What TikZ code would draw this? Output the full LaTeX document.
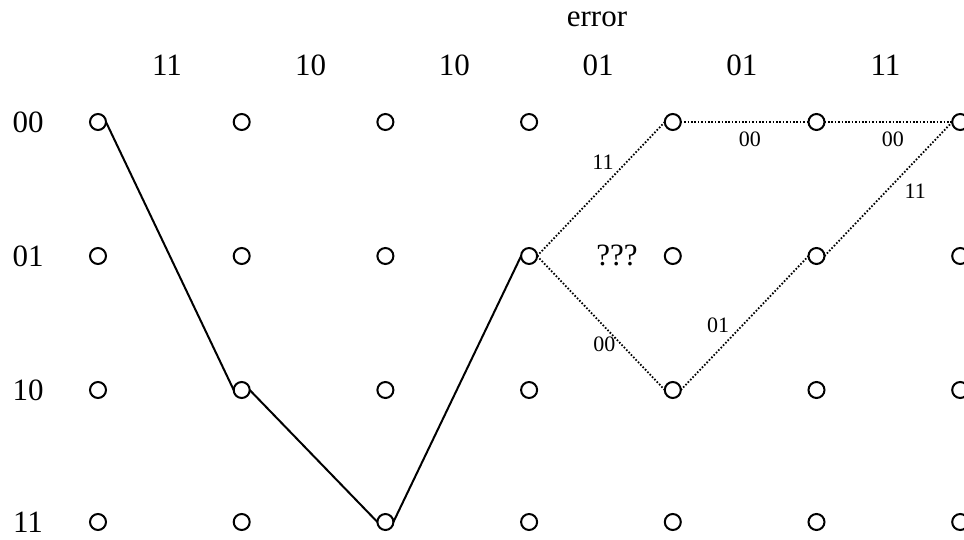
\documentclass[tikz,border=0pt]{standalone}
\usepackage{fontspec}
\setmainfont{Liberation Serif}
\usetikzlibrary{positioning}

\begin{document}
\begin{tikzpicture}[
  x=0.5pt, y=-0.5pt,
  state/.style={circle, draw, line width=1pt, minimum size=8pt,
                inner sep=0pt, outer sep=0pt},
  lbl/.style={font=\fontsize{15.5}{18}\selectfont, inner sep=0pt},
  elbl/.style={font=\fontsize{11}{13}\selectfont, inner sep=1pt},
  survivor/.style={line width=1pt},
  trial/.style={line width=0.9pt, dash pattern=on 0.8pt off 0.9pt}
]
  \useasboundingbox (0,0) rectangle (964,540);

  % trellis states
  \foreach \c in {0,...,6}
    \foreach \r/\y in {0/122,1/256,2/390,3/522}
      \node[state] (s\c\r) at (98+143.7*\c,\y) {};

  % state names and received symbols
  \foreach \r/\y/\t in {0/122/00,1/256/01,2/390/10,3/522/11}
    \node[lbl] (st\r) at (28,\y) {\t};
  \foreach \c/\t in {0/11,1/10,2/10,3/01,4/01,5/11}
    \node[lbl] (rx\c) at (167+143.7*\c,65) {\t};

  \node[lbl] (err) at (597,19.5) {error};
  \node[lbl] (unk) at (617,255) {???};

  \draw[survivor] (s00.east) -- (s12.west);
  \draw[survivor] (s12.east) -- (s23.west);
  \draw[survivor] (s23.east) -- (s31.west);

  \draw[trial] (s31.east) -- node[elbl, pos=0.7, left=5pt] {11} (s40.west);
  \draw[trial] (s31.east) -- node[elbl, pos=0.66, left=1.5pt] {00} (s42.west);
  \draw[trial] (s40.east) -- node[elbl, pos=0.54, below=3.5pt] {00} (s50.west);
  \draw[trial] (s50.east) -- node[elbl, pos=0.535, below=3.5pt] {00} (s60.west);
  \draw[trial] (s42.east) -- node[elbl, pos=0.48, left=5pt] {01} (s51.west);
  \draw[trial] (s51.east) -- node[elbl, pos=0.48, right=8pt] {11} (s60.west);
\end{tikzpicture}
\end{document}
